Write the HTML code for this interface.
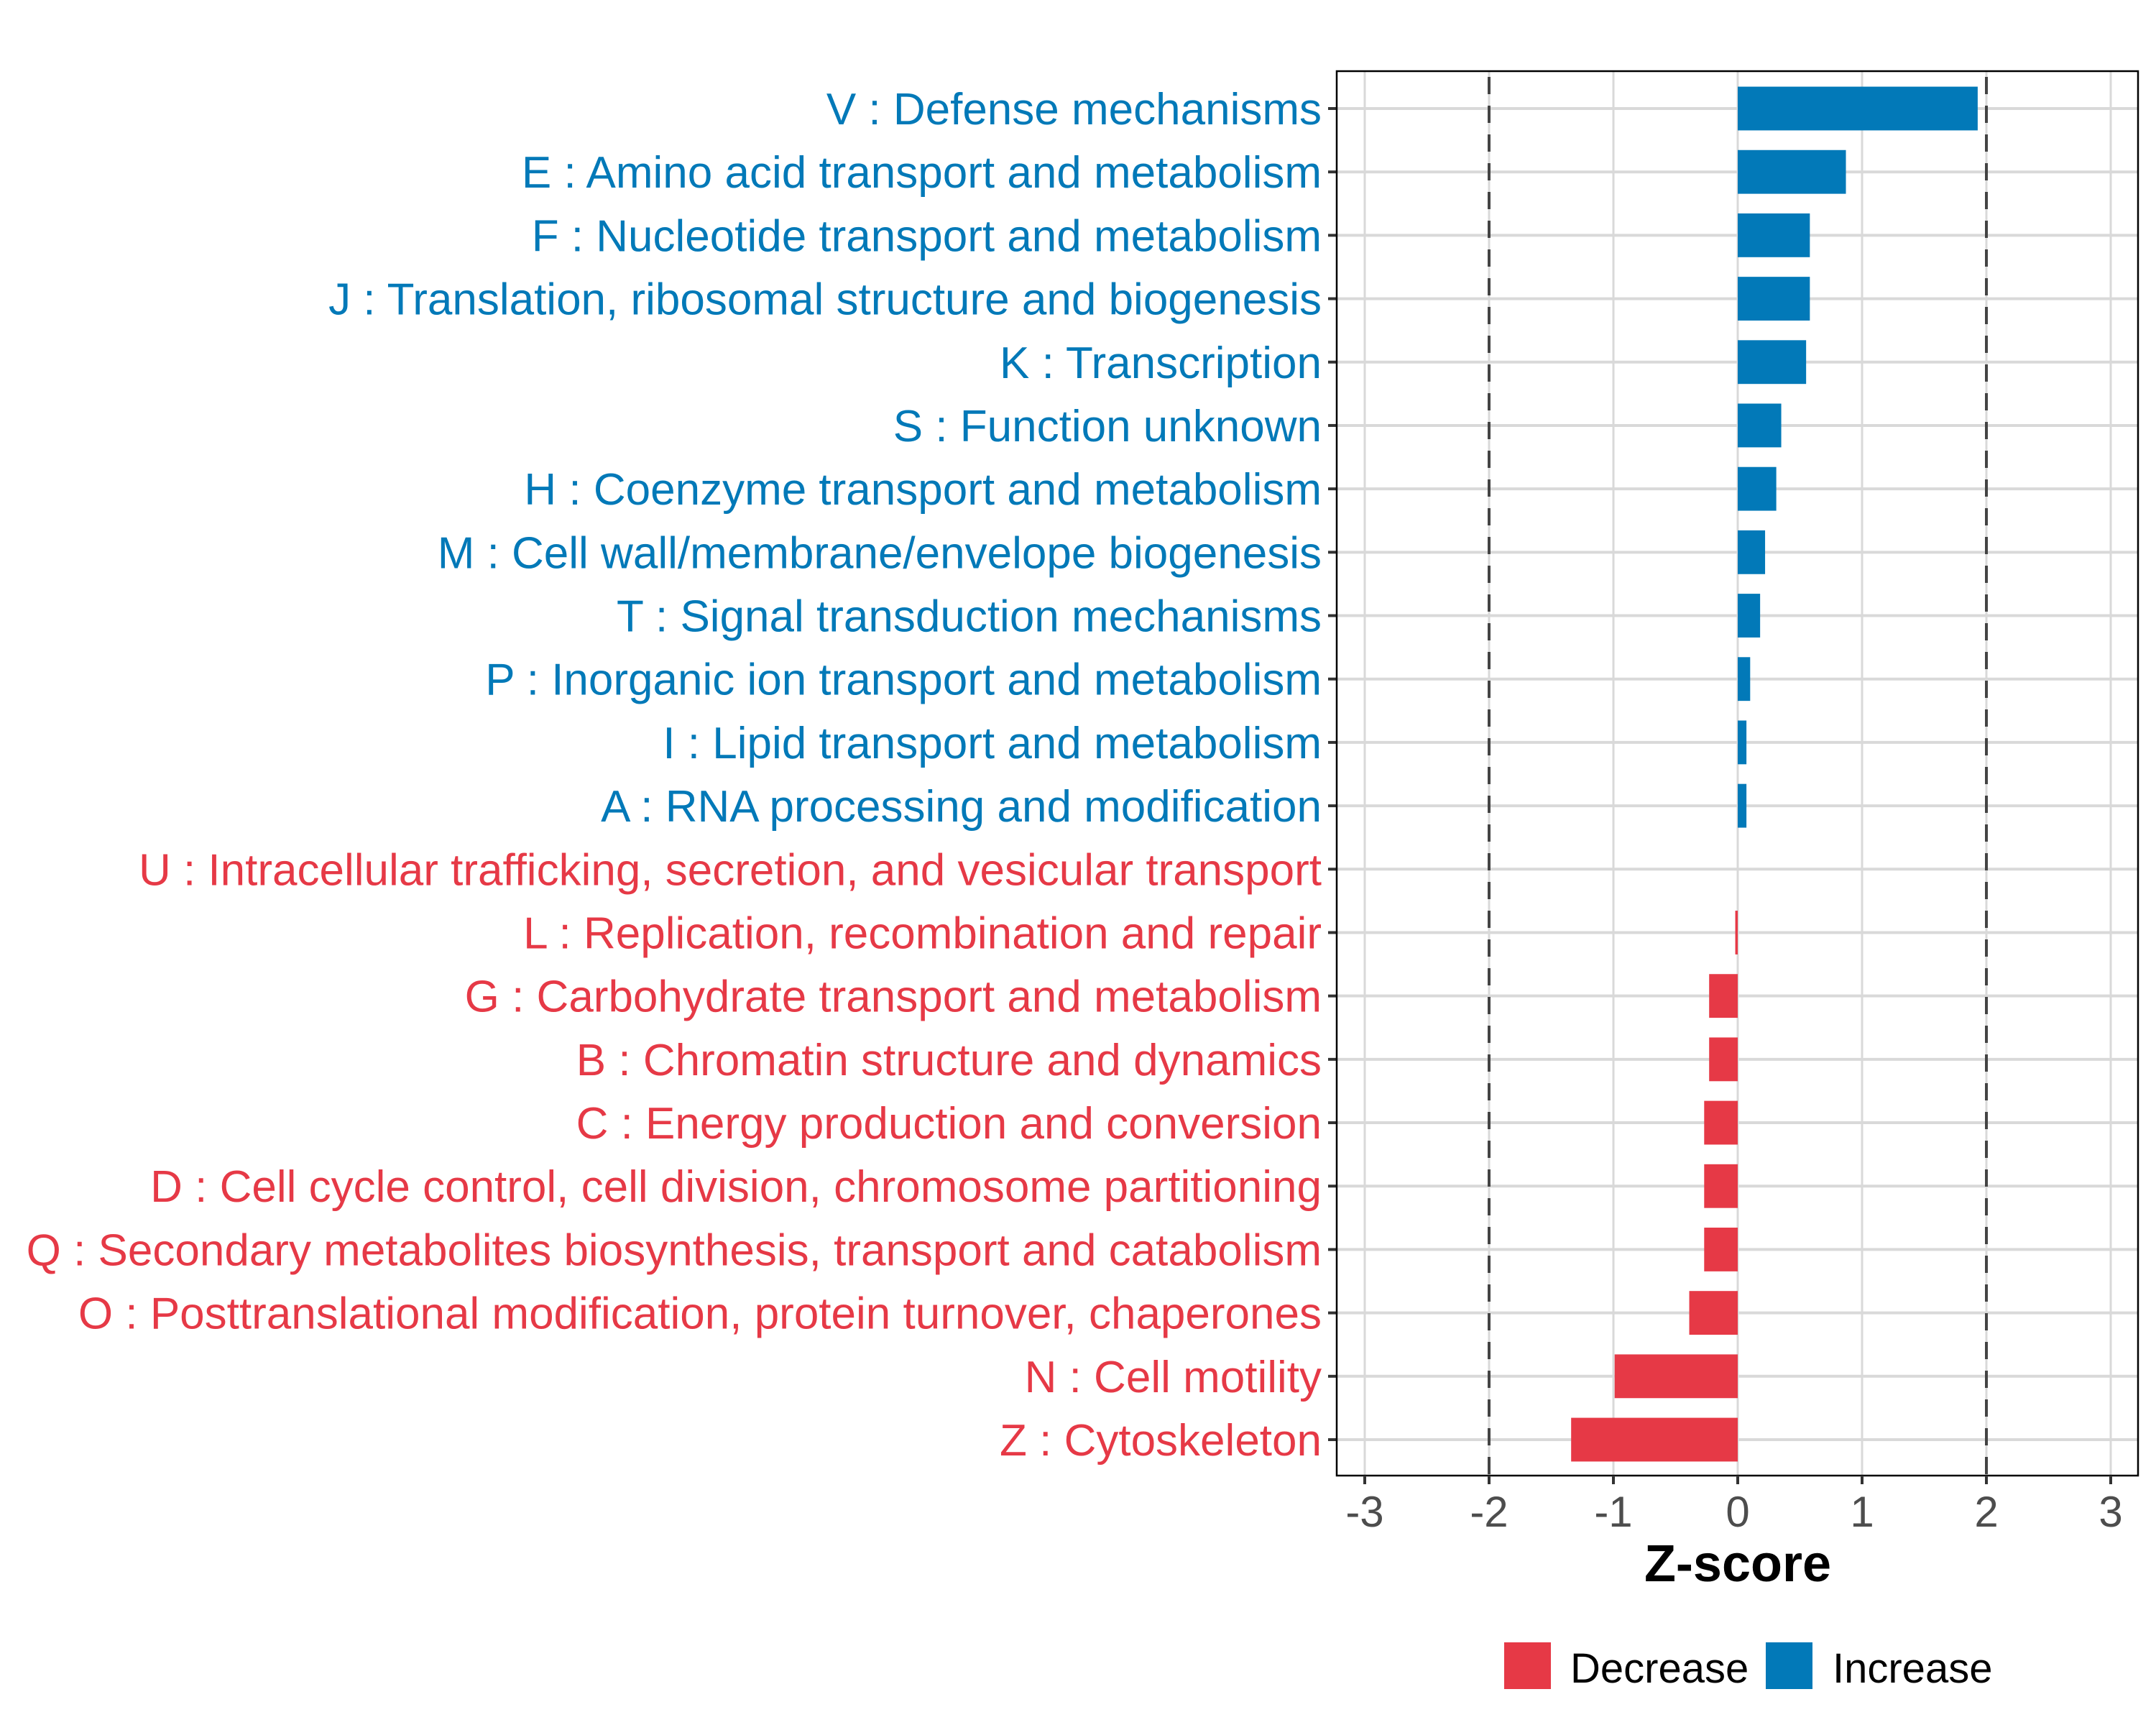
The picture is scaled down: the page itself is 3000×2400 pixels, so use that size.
<!DOCTYPE html>
<html><head><meta charset="utf-8"><style>
html,body{margin:0;padding:0;background:#fff}
svg{display:block;font-family:"Liberation Sans",sans-serif}
</style></head><body>
<svg id="chart" width="3000" height="2400" viewBox="0 0 3000 2400"></svg>
<script>
const categories=["V : Defense mechanisms","E : Amino acid transport and metabolism","F : Nucleotide transport and metabolism","J : Translation, ribosomal structure and biogenesis","K : Transcription","S : Function unknown","H : Coenzyme transport and metabolism","M : Cell wall/membrane/envelope biogenesis","T : Signal transduction mechanisms","P : Inorganic ion transport and metabolism","I : Lipid transport and metabolism","A : RNA processing and modification","U : Intracellular trafficking, secretion, and vesicular transport","L : Replication, recombination and repair","G : Carbohydrate transport and metabolism","B : Chromatin structure and dynamics","C : Energy production and conversion","D : Cell cycle control, cell division, chromosome partitioning","Q : Secondary metabolites biosynthesis, transport and catabolism","O : Posttranslational modification, protein turnover, chaperones","N : Cell motility","Z : Cytoskeleton"];
const zscores=[1.93,0.87,0.58,0.58,0.55,0.35,0.31,0.22,0.18,0.10,0.07,0.07,0.0,-0.02,-0.23,-0.23,-0.27,-0.27,-0.27,-0.39,-0.99,-1.34];
const xTicks=[-3,-2,-1,0,1,2,3];
const xTickLabels=["-3","-2","-1","0","1","2","3"];
const thresholds=[-2,2];

const NS="http://www.w3.org/2000/svg";
const svg=document.getElementById('chart');
const L=1860,R=2975,T=99,B=2053;
const RED="#e63946",BLUE="#0279b8";
function x(v){return 2418+v*173;}
const step=(2003-151)/(categories.length-1);
function y(i){return 151+i*step;}
function mk(tag,attrs,parent){const e=document.createElementNS(NS,tag);for(const k in attrs)e.setAttribute(k,attrs[k]);(parent||svg).appendChild(e);return e;}

const bg=mk('rect',{x:L,y:T,width:R-L,height:B-T,fill:'#fff'});



xTicks.forEach((t,i)=>{
  const g=mk('line',{x1:x(t),x2:x(t),y1:T,y2:B,stroke:'#d9d9d9','stroke-width':3});
  
  
});
categories.forEach((c,i)=>{
  const g=mk('line',{x1:L,x2:R,y1:y(i),y2:y(i),stroke:'#d9d9d9','stroke-width':4});
  
  
});
thresholds.forEach(t=>{
  const d=mk('line',{x1:x(t),x2:x(t),y1:T+8,y2:B,stroke:'#444','stroke-width':4,'stroke-dasharray':'24 16'});
  
  
});
const bh=step*0.69;
categories.forEach((c,i)=>{
  const v=zscores[i];
  const col=v>0?BLUE:RED;
  const r=mk('rect',{x:Math.min(x(0),x(v)),y:y(i)-bh/2,width:Math.abs(x(v)-x(0)),height:bh,fill:col});
  
  
  const tk=mk('line',{x1:L-12,x2:L,y1:y(i),y2:y(i),stroke:'#333','stroke-width':4});
  
  
  const tx=mk('text',{x:L-21,y:y(i)+22,'text-anchor':'end','font-size':62,fill:(i<12?BLUE:RED)});
  tx.textContent=c;
  
  
});
const border=mk('rect',{x:L,y:T,width:R-L,height:B-T,fill:'none',stroke:'#000','stroke-width':2.5});


xTicks.forEach((t,i)=>{
  const tk=mk('line',{x1:x(t),x2:x(t),y1:B,y2:B+12,stroke:'#333','stroke-width':4});
  
  
  const tl=mk('text',{x:x(t),y:2124,'text-anchor':'middle','font-size':60,fill:'#4d4d4d'});
  tl.textContent=xTickLabels[i];
  
  
});
const xt=mk('text',{x:x(0),y:2200,'text-anchor':'middle','font-size':72,'font-weight':'bold',fill:'#000'});
xt.textContent='Z-score';



const lg=mk('g',{});


const r1=mk('rect',{x:2093,y:2285,width:65,height:65,fill:RED},lg);


const t1=mk('text',{x:2185,y:2341,'font-size':58,fill:'#000'},lg);
t1.textContent='Decrease';


const r2=mk('rect',{x:2457,y:2285,width:65,height:65,fill:BLUE},lg);


const t2=mk('text',{x:2550,y:2341,'font-size':58,fill:'#000'},lg);
t2.textContent='Increase';


</script>
</body></html>
